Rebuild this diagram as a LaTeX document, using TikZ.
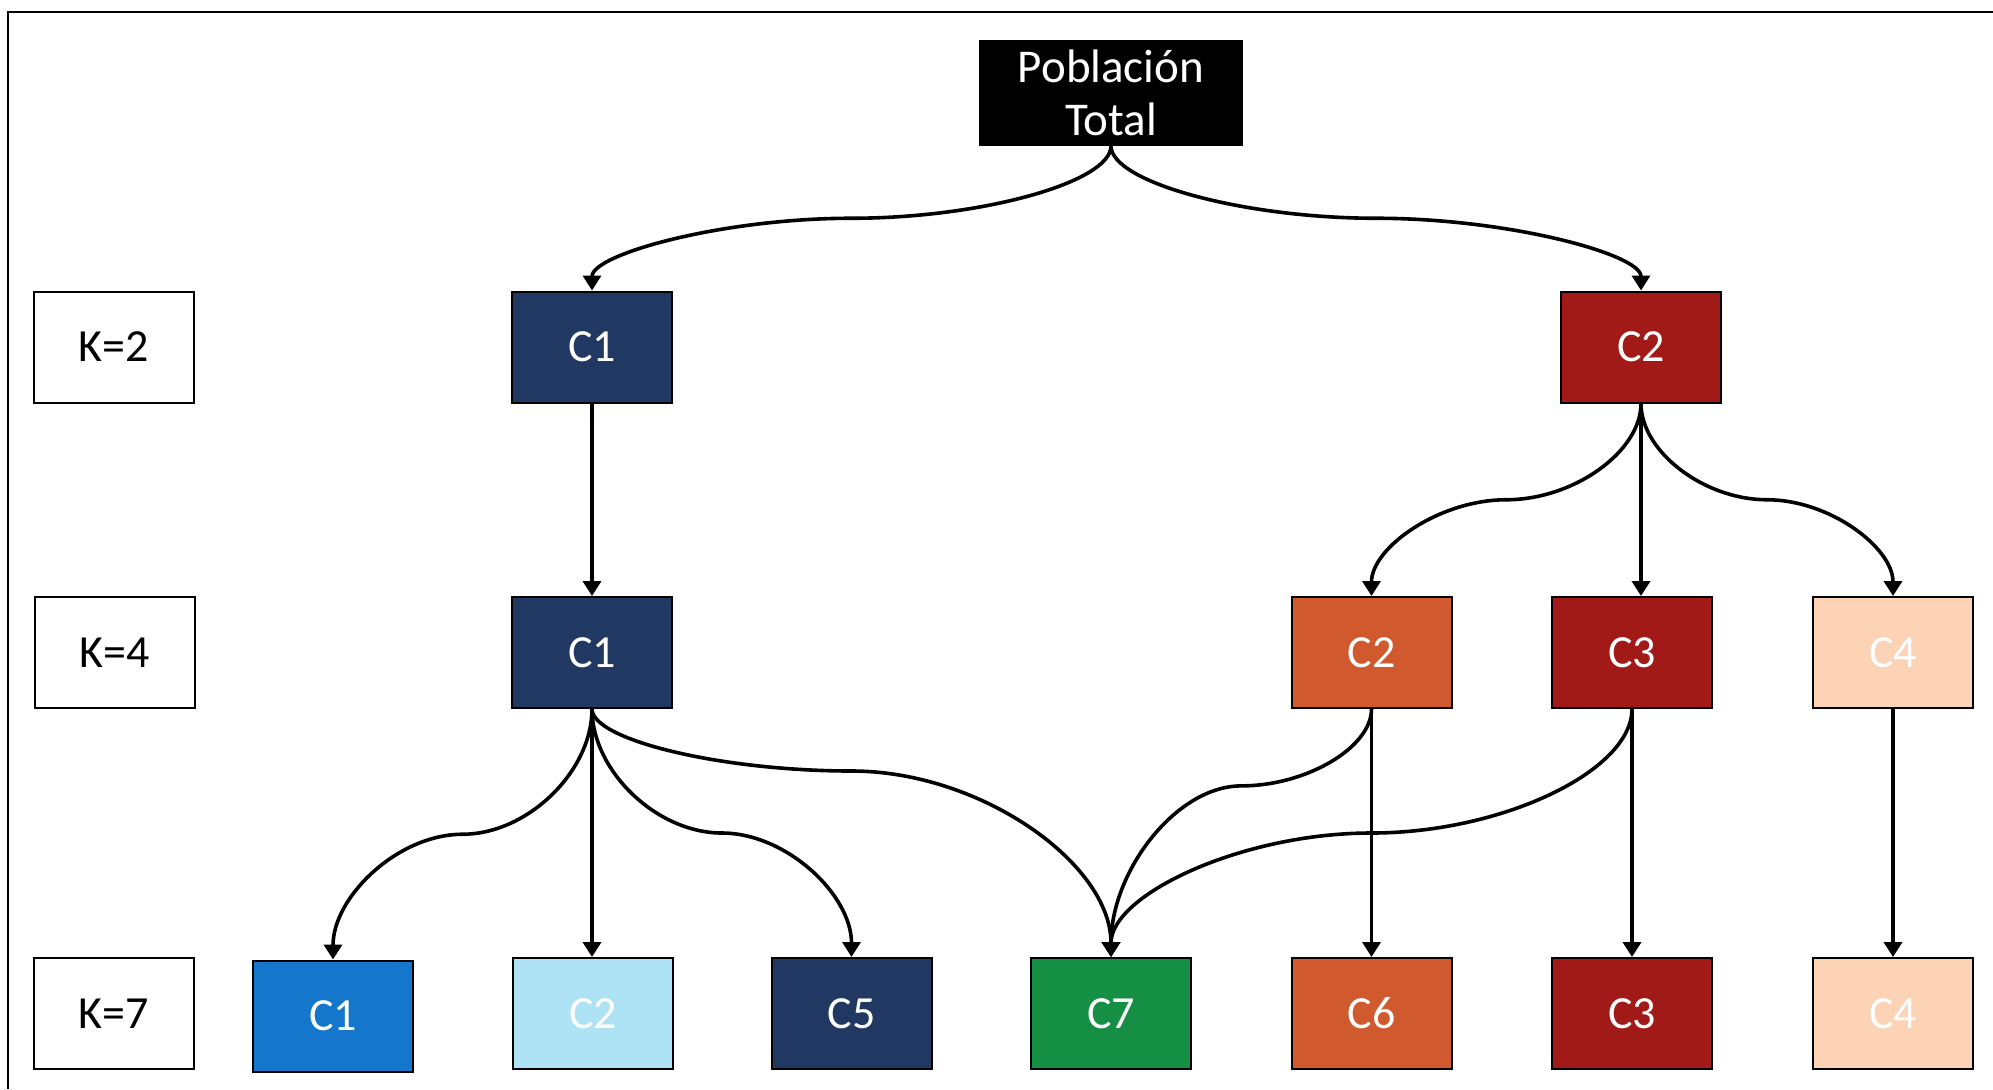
\documentclass[tikz,border=0pt]{standalone}
\usepackage{fontspec}
\setmainfont{Carlito}
\usetikzlibrary{arrows.meta,calc}
\definecolor{cnavy}{HTML}{213862}
\definecolor{cred}{HTML}{A21A17}
\definecolor{corange}{HTML}{D0592D}
\definecolor{cpeach}{HTML}{FCD3B5}
\definecolor{cblue}{HTML}{1577CB}
\definecolor{clight}{HTML}{ADE3F5}
\definecolor{cgreen}{HTML}{158F44}
\tikzset{
  box/.style={draw=black,line width=1pt,minimum width=80pt,minimum height=55.5pt,
    inner sep=0pt,font=\fontsize{23}{27}\selectfont,text=white},
  kbox/.style={box,fill=white,text=black},
  conn/.style={line width=1.8pt,-{Triangle[length=7.5pt,width=9pt]}},
  pp/.style={to path={
    let \p1=(\tikztostart), \p2=(\tikztotarget),
        \p3=($(\tikztostart)!#1!(\tikztotarget)$)
    in .. controls (\x1,{0.5*\y1+0.5*\y3}) and ({0.75*\x1+0.25*\x2},\y3)
    .. ({0.5*\x1+0.5*\x2},\y3)
    .. controls ({0.25*\x1+0.75*\x2},\y3) and (\x2,{0.5*\y3+0.5*\y2})
    .. (\x2,\y2)}},
  pp/.default=0.5
}
\begin{document}
\begin{tikzpicture}[x=0.5pt,y=-0.5pt]
\useasboundingbox (0,0) rectangle (1993,1089);
\fill[white] (0,0) rectangle (1993,1089);
\draw[line width=1.4pt] (8,1089) -- (8,12) -- (1993,12);

% root
\node[box,fill=black,minimum width=131pt,minimum height=52pt,
  align=center,font=\fontsize{23.5}{26.5}\selectfont] (pop) at (1111,93) {Población\\Total};

% level labels
\node[kbox] (k2) at (114,347) {K=2};
\node[kbox] (k4) at (114.5,652.5) {K=4};
\node[kbox] (k7) at (114,1013.5) {K=7};

% K=2
\node[box,fill=cnavy] (a1) at (592,347) {C1};
\node[box,fill=cred] (a2) at (1641,347) {C2};

% K=4
\node[box,fill=cnavy] (b1) at (592,652.5) {C1};
\node[box,fill=corange] (b2) at (1371.5,652.5) {C2};
\node[box,fill=cred] (b3) at (1632,652.5) {C3};
\node[box,fill=cpeach] (b4) at (1893,652.5) {C4};

% K=7
\node[box,fill=cblue] (c1) at (333,1016) {C1};
\node[box,fill=clight] (c2) at (593,1013.5) {C2};
\node[box,fill=cnavy] (c5) at (851.5,1013.5) {C5};
\node[box,fill=cgreen] (c7) at (1111,1013.5) {C7};
\node[box,fill=corange] (c6) at (1371.5,1013.5) {C6};
\node[box,fill=cred] (c3) at (1632,1013.5) {C3};
\node[box,fill=cpeach] (c4) at (1893,1013.5) {C4};

% connectors
\draw[conn] (pop.south) to[pp] (a1.north);
\draw[conn] (pop.south) to[pp] (a2.north);
\draw[conn] (a1.south) -- (b1.north);
\draw[conn] (a2.south) to[pp] (b2.north);
\draw[conn] (a2.south) -- (a2.south |- b3.north);
\draw[conn] (a2.south) to[pp] (b4.north);
\draw[conn] (b1.south) to[pp] (c1.north);
\draw[conn] (b1.south) -- (b1.south |- c2.north);
\draw[conn] (b1.south) to[pp] (c5.north);
\draw[conn] (b1.south) to[pp=0.25] (c7.north);
\draw[conn] (b2.south) to[pp=0.31] (c7.north);
\draw[conn] (b2.south) -- (c6.north);
\draw[conn] (b3.south) to[pp] (c7.north);
\draw[conn] (b3.south) -- (c3.north);
\draw[conn] (b4.south) -- (c4.north);
\end{tikzpicture}
\end{document}
